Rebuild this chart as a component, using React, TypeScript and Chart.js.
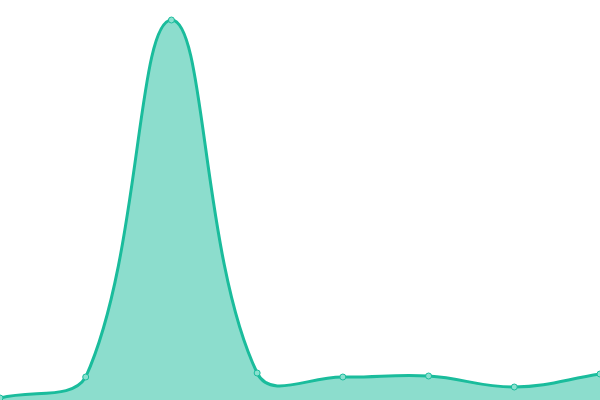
import React, { useEffect, useRef } from 'react';
import { Chart, registerables } from 'chart.js';

Chart.register(...registerables);

const labels = ['1', '2', '3', '4', '5', '6', '7', '8'];
const values = [0.5, 5.75, 95, 6.75, 5.75, 6, 3.25, 6.5];

const App: React.FC = () => {
  const chartRef = useRef<HTMLCanvasElement>(null);
  const chartInstance = useRef<Chart | null>(null);

  useEffect(() => {
    if (!chartRef.current) return;
    const ctx = chartRef.current.getContext('2d');
    if (!ctx) return;

    chartInstance.current = new Chart(ctx, {
      type: 'line',
      data: {
        labels,
        datasets: [{
          data: values,
          fill: 'origin',
          tension: 0.4,
          borderColor: '#1abc9c',
          borderWidth: 3,
          backgroundColor: 'rgba(26, 188, 156, 0.5)',
          pointRadius: 3,
          pointBorderWidth: 1,
          pointBorderColor: '#1abc9c',
          pointBackgroundColor: '#8ae0cf'
        }]
      },
      options: {
        animation: false,
        responsive: true,
        maintainAspectRatio: false,
        layout: { padding: 0, autoPadding: false },
        scales: {
          x: { display: false },
          y: { display: false, min: 0, max: 100 }
        },
        plugins: {
          legend: { display: false },
          tooltip: { enabled: false }
        }
      }
    });

    return () => {
      if (chartInstance.current) {
        chartInstance.current.destroy();
        chartInstance.current = null;
      }
    };
  }, []);

  return (
    <div style={{ position: 'fixed', left: 0, top: 0, width: 600, height: 400, background: '#fff' }}>
      <canvas ref={chartRef}></canvas>
    </div>
  );
};

export default App;
